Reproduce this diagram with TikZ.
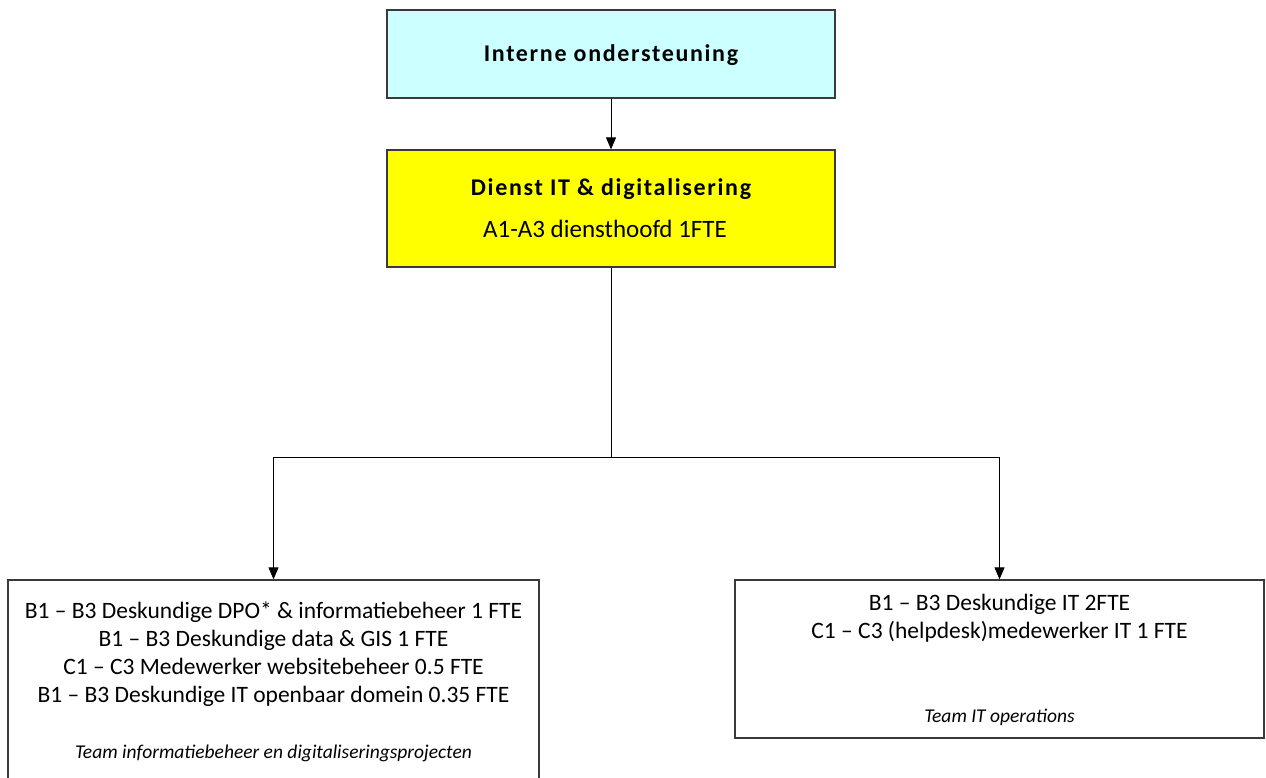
\documentclass[tikz,border=0pt]{standalone}
\usepackage{fontspec}
\setmainfont{Carlito}
\newfontfamily\headfont[LetterSpace=7]{Carlito}
\usetikzlibrary{arrows.meta}
\definecolor{cyanfill}{HTML}{CCFFFF}
\definecolor{yellowfill}{HTML}{FFFF00}
\definecolor{edge}{HTML}{3A3A3A}
\tikzset{
  box/.style={draw=edge, line width=1.3pt, rectangle, inner sep=0pt},
  conn/.style={draw=black, line width=1pt},
  arr/.style={conn, -{Triangle[length=12pt,width=10pt]}},
  bodytxt/.style={font=\fontsize{23.5}{28.2}\selectfont, align=center, inner sep=0pt},
  subtxt/.style={font=\fontsize{25}{28}\selectfont, inner sep=0pt},
  teamtxt/.style={font=\fontsize{19.5}{22}\selectfont\itshape, inner sep=0pt},
  headtxt/.style={font=\headfont\fontsize{24}{28}\selectfont\bfseries, inner sep=0pt}
}
\begin{document}
\begin{tikzpicture}[x=1pt,y=-1pt]
\clip (0,0) rectangle (1266,778);
\fill[white] (0,0) rectangle (1266,778);
% boxes
\node[box, fill=cyanfill, minimum width=448pt, minimum height=88pt] (top) at (611,54) {};
\node[box, fill=yellowfill, minimum width=448pt, minimum height=117pt] (dienst) at (611,208.5) {};
\node[box, fill=white, minimum width=531pt, minimum height=240pt] (left) at (273.5,700) {};
\node[box, fill=white, minimum width=529pt, minimum height=158pt] (right) at (999.5,659) {};
% texts
\node[headtxt] (toptxt) at (611,55) {Interne ondersteuning};
\node[headtxt] (dienstt) at (611,189) {Dienst IT \& digitalisering};
\node[subtxt] (dienstsub) at (605,229) {A1-A3 diensthoofd 1FTE};
\node[bodytxt, anchor=north] (lefttxt) at (273.5,601.5) {B1 – B3 Deskundige DPO* \& informatiebeheer 1 FTE\\
B1 – B3 Deskundige data \& GIS 1 FTE\\
C1 – C3 Medewerker websitebeheer 0.5 FTE\\
B1 – B3 Deskundige IT openbaar domein 0.35 FTE};
\node[teamtxt] (leftteam) at (273.5,753) {Team informatiebeheer en digitaliseringsprojecten};
\node[bodytxt, anchor=north] (righttxt) at (999.5,594) {B1 – B3 Deskundige IT 2FTE\\
C1 – C3 (helpdesk)medewerker IT 1 FTE};
\node[teamtxt] (rightteam) at (999.5,717) {Team IT operations};
% connectors
\coordinate (split) at (611,457);
\draw[arr] (top.south) -- (dienst.north);
\draw[conn] (dienst.south) -- (split);
\draw[arr] (split) -| (left.north);
\draw[arr] (split) -| (right.north);
\end{tikzpicture}
\end{document}
